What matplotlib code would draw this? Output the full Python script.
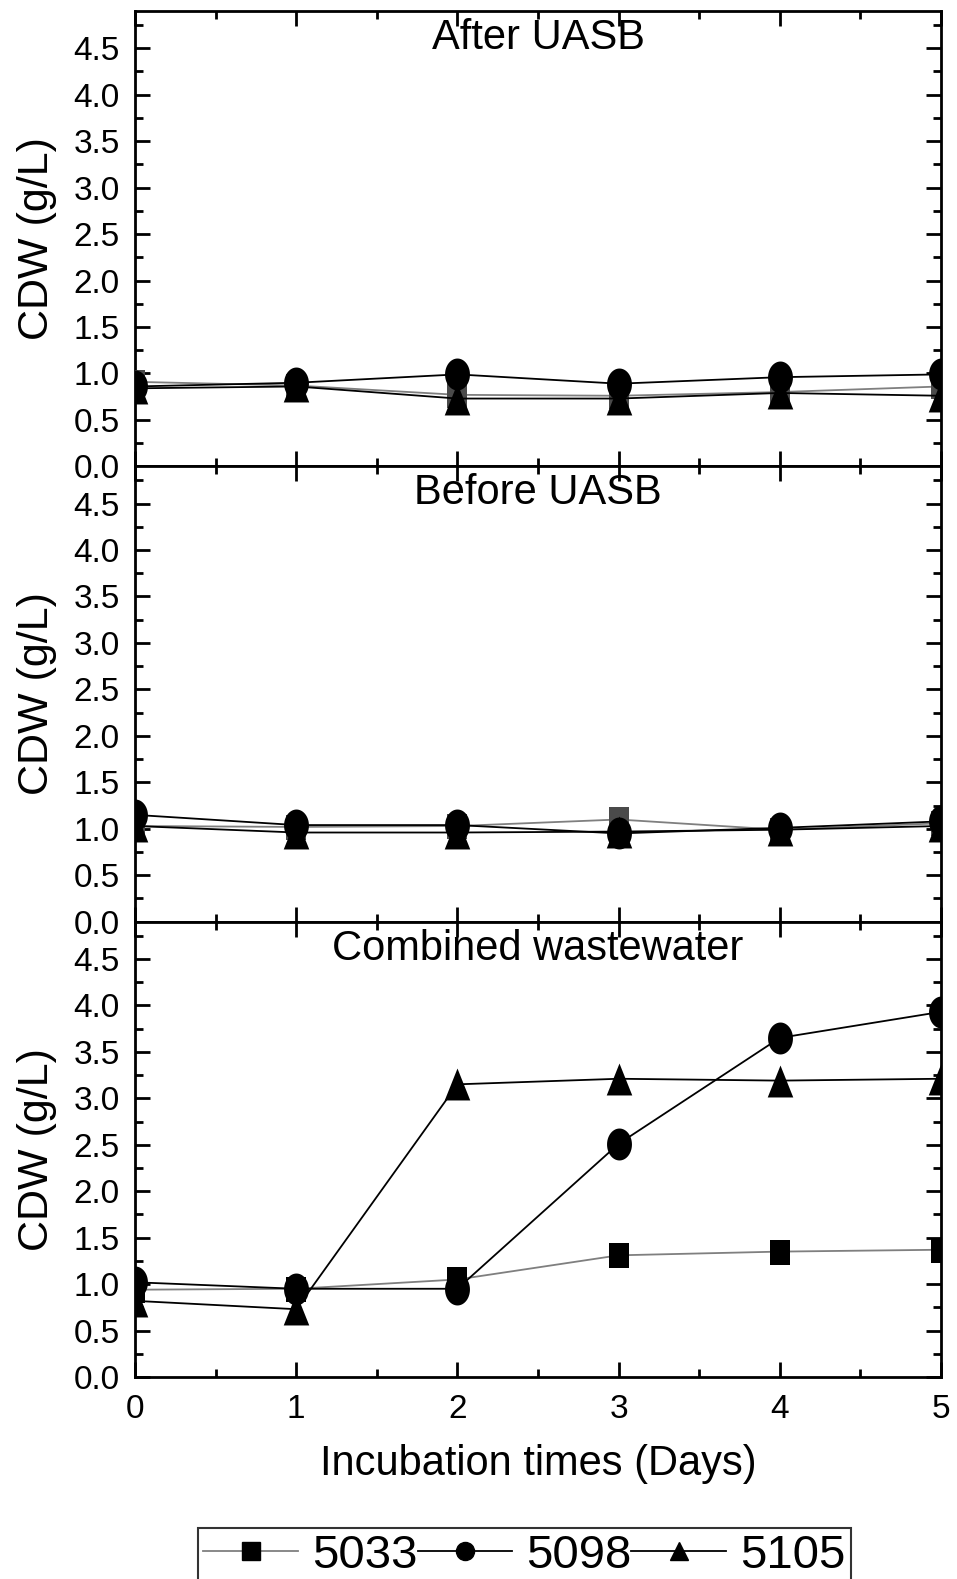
import numpy as np
import matplotlib
matplotlib.use('Agg')
import matplotlib.pyplot as plt
from matplotlib.path import Path
from matplotlib.lines import Line2D

plt.rcParams['font.family'] = ['Liberation Sans', 'DejaVu Sans']

days = [0, 1, 2, 3, 4, 5]
panels = ['After UASB', 'Before UASB', 'Combined wastewater']
strains = ['5033', '5098', '5105']

# CDW (g/L) per panel
after_5033 = [0.91, 0.87, 0.77, 0.76, 0.80, 0.86]
after_5098 = [0.86, 0.90, 0.99, 0.89, 0.96, 0.99]
after_5105 = [0.84, 0.86, 0.73, 0.73, 0.79, 0.76]

before_5033 = [1.03, 1.02, 1.03, 1.10, 0.99, 1.06]
before_5098 = [1.15, 1.04, 1.04, 0.95, 1.01, 1.08]
before_5105 = [1.03, 0.96, 0.96, 0.97, 0.99, 1.03]

comb_5033 = [0.94, 0.95, 1.05, 1.31, 1.35, 1.37]
comb_5098 = [1.02, 0.95, 0.95, 2.51, 3.65, 3.93]
comb_5105 = [0.82, 0.73, 3.15, 3.21, 3.19, 3.21]

data = [
    [after_5033, after_5098, after_5105],
    [before_5033, before_5098, before_5105],
    [comb_5033, comb_5098, comb_5105],
]


# markers look a bit stretched vertically in the original
def ellipse(w=0.78):
    t = np.linspace(0, 2 * np.pi, 60)
    return Path(np.column_stack([w * 0.5 * np.cos(t), 0.5 * np.sin(t)]), closed=True)


def rect(w=0.82):
    v = [(-w / 2, -0.5), (w / 2, -0.5), (w / 2, 0.5), (-w / 2, 0.5), (-w / 2, -0.5)]
    return Path(v, closed=True)


def tri(w=0.8):
    v = [(-w / 2, -0.5), (w / 2, -0.5), (0, 0.5), (-w / 2, -0.5)]
    return Path(v, closed=True)


line_colors = ['#7f7f7f', 'black', 'black']
mk = [rect(), ellipse(), tri()]
msz = [18, 23, 23]

fig = plt.figure(figsize=(9.57, 15.79), dpi=100)
left, width = 0.1411, 0.8422
bottom, top = 0.1279, 0.9930
h = (top - bottom) / 3

for i, name in enumerate(panels):
    ax = fig.add_axes([left, top - (i + 1) * h, width, h])
    for j in [0, 2, 1]:
        mcolor = 'black'
        if j == 0 and i < 2:
            mcolor = '#4a4a4a'
        ax.plot(days, data[i][j], color=line_colors[j], lw=1.3, marker=mk[j],
                markersize=msz[j], markerfacecolor=mcolor, markeredgecolor=mcolor,
                markeredgewidth=0, zorder=3)
    ax.set_xlim(0, 5)
    ax.set_ylim(0, 4.9)
    ax.set_yticks(np.arange(0, 4.6, 0.5))
    ax.set_yticklabels(['%.1f' % v for v in np.arange(0, 4.6, 0.5)])
    ax.set_yticks(np.arange(0.25, 4.9, 0.5), minor=True)
    ax.set_xticks(days)
    ax.set_xticks(np.arange(0.5, 5, 1), minor=True)
    ax.tick_params(which='both', direction='in', top=True, right=True, width=2, labelsize=24)
    ax.tick_params(which='major', length=11, pad=11)
    ax.tick_params(axis='x', which='major', pad=12)
    ax.tick_params(which='minor', length=6)
    for s in ax.spines.values():
        s.set_linewidth(2)
    if i < 2:
        ax.tick_params(labelbottom=False)
    else:
        ax.set_xlabel('Incubation times (Days)', fontsize=30, labelpad=14)
    ax.set_ylabel('CDW (g/L)', fontsize=31, labelpad=12)
    ax.text(0.5, 0.985, name, transform=ax.transAxes, ha='center', va='top', fontsize=30)

handles = [Line2D([], [], color=line_colors[k], lw=1.3, marker=m, markersize=13,
                  markerfacecolor='black', markeredgecolor='black')
           for k, m in enumerate(['s', 'o', '^'])]
leg = fig.legend(handles, strains, loc='center', bbox_to_anchor=(0.548, 0.0148), ncol=3,
                 fontsize=34, frameon=True, fancybox=False, edgecolor='black',
                 handlelength=2.0, handletextpad=0.3, columnspacing=0.0,
                 borderpad=0.12, borderaxespad=0)
leg.get_frame().set_linewidth(1.5)

fig.savefig('out.png', dpi=100)
